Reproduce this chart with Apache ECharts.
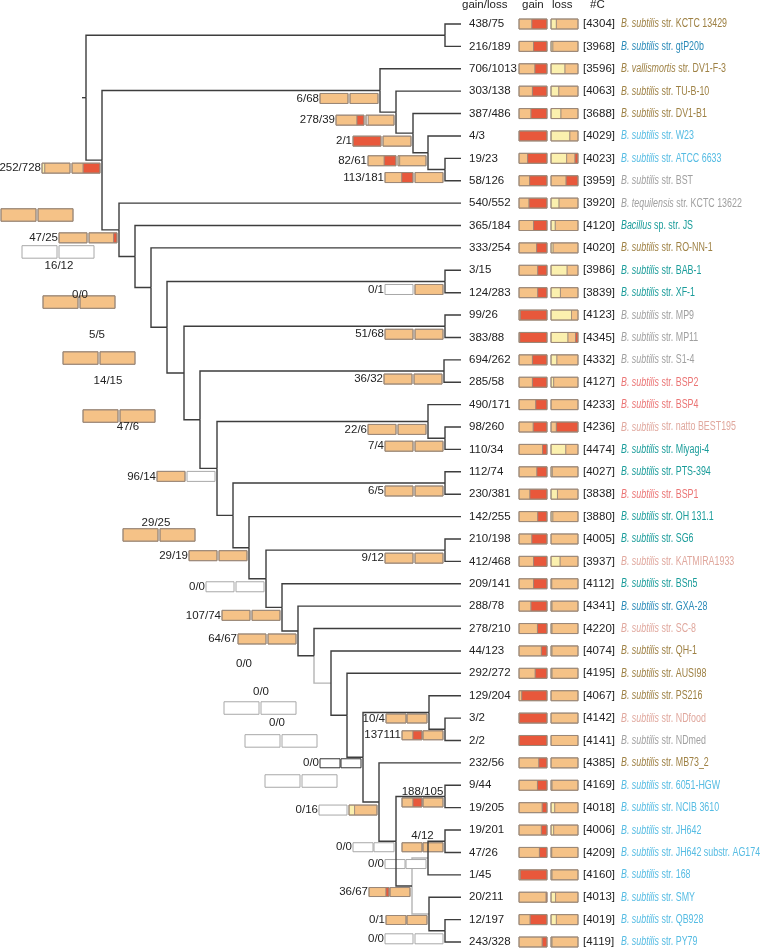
<!DOCTYPE html>
<html><head><meta charset="utf-8">
<script src="https://cdn.jsdelivr.net/npm/echarts@6.0.0/dist/echarts.min.js"></script>
<style>html,body{margin:0;padding:0;background:#fff}#c{width:760px;height:950px}</style>
</head><body><div id="c"></div>
<script>
// ---------------- DATA ----------------
const leafGenus = ['B. subtilis','B. subtilis','B. vallismortis','B. subtilis','B. subtilis','B. subtilis','B. subtilis','B. subtilis','B. tequilensis','Bacillus','B. subtilis','B. subtilis','B. subtilis','B. subtilis','B. subtilis','B. subtilis','B. subtilis','B. subtilis','B. subtilis','B. subtilis','B. subtilis','B. subtilis','B. subtilis','B. subtilis','B. subtilis','B. subtilis','B. subtilis','B. subtilis','B. subtilis','B. subtilis','B. subtilis','B. subtilis','B. subtilis','B. subtilis','B. subtilis','B. subtilis','B. subtilis','B. subtilis','B. subtilis','B. subtilis','B. subtilis','B. subtilis'];
const leafStrain = ['str. KCTC 13429','str. gtP20b','str. DV1-F-3','str. TU-B-10','str. DV1-B1','str. W23','str. ATCC 6633','str. BST','str. KCTC 13622','sp. str. JS','str. RO-NN-1','str. BAB-1','str. XF-1','str. MP9','str. MP11','str. S1-4','str. BSP2','str. BSP4','str. natto BEST195','str. Miyagi-4','str. PTS-394','str. BSP1','str. OH 131.1','str. SG6','str. KATMIRA1933','str. BSn5','str. GXA-28','str. SC-8','str. QH-1','str. AUSI98','str. PS216','str. NDfood','str. NDmed','str. MB73_2','str. 6051-HGW','str. NCIB 3610','str. JH642','str. JH642 substr. AG174','str. 168','str. SMY','str. QB928','str. PY79'];
const leafGroup = ['brown','blue','brown','brown','brown','lblue','lblue','gray','gray','teal','brown','teal','teal','gray','gray','gray','salmon','salmon','pink','teal','teal','salmon','teal','teal','pink','teal','blue','pink','brown','brown','brown','pink','gray','brown','lblue','lblue','lblue','lblue','lblue','lblue','lblue','lblue'];
const leafGainLoss = ['438/75','216/189','706/1013','303/138','387/486','4/3','19/23','58/126','540/552','365/184','333/254','3/15','124/283','99/26','383/88','694/262','285/58','490/171','98/260','110/34','112/74','230/381','142/255','210/198','412/468','209/141','288/78','278/210','44/123','292/272','129/204','3/2','2/2','232/56','9/44','19/205','19/201','47/26','1/45','20/211','12/197','243/328'];
const leafGenes = [4304,3968,3596,4063,3688,4029,4023,3959,3920,4120,4020,3986,3839,4123,4345,4332,4127,4233,4236,4474,4027,3838,3880,4005,3937,4112,4341,4220,4074,4195,4067,4142,4141,4385,4169,4018,4006,4209,4160,4013,4019,4119];
// fractions [yellow, orange, red]; remainder is empty (white)
const leafGainSeg = [[0,.46,.54],[0,.52,.48],[0,.57,.43],[0,.48,.52],[0,.43,.57],[0,0,1],[0,.31,.69],[0,.38,.62],[0,.36,.64],[0,.52,.48],[0,.63,.37],[0,.67,.33],[0,.67,.33],[0,.05,.95],[0,.03,.97],[0,.48,.52],[0,.48,.52],[0,.6,.4],[0,.51,.49],[0,.84,.16],[0,.64,.36],[0,.39,.61],[0,.67,.33],[0,.46,.54],[0,.52,.48],[0,.52,.48],[0,.43,.57],[0,.66,.34],[0,.8,.2],[0,.58,.42],[0,.1,.9],[0,0,1],[0,0,1],[0,.71,.29],[0,.66,.34],[0,.83,.17],[0,.8,.2],[0,.73,.27],[0,.05,.95],[0,.97,.03],[0,.4,.6],[0,.83,.17]];
const leafLossSeg = [[.2,.8,0],[.07,.93,0],[.52,.48,0],[.29,.71,0],[.37,.63,0],[.7,.3,0],[.58,.31,.11],[0,.56,.44],[.3,.7,0],[.16,.84,0],[.08,.92,0],[.6,.4,0],[.35,.65,0],[.76,.24,0],[.63,.28,.09],[.22,.78,0],[.1,.9,0],[0,1,0],[0,.2,.8],[.55,.45,0],[.05,.95,0],[.24,.76,0],[.07,.93,0],[0,1,0],[.34,.66,0],[.03,.97,0],[.04,.96,0],[.04,.96,0],[.04,.96,0],[.04,.96,0],[0,1,0],[0,1,0],[0,1,0],[0,1,0],[.04,.96,0],[.14,.86,0],[.1,.9,0],[.03,.97,0],[.04,.96,0],[.17,.83,0],[.2,.8,0],[.04,.96,0]];

const headerTexts = ['gain/loss','gain','loss','#C'];

// tree: depth of each internal node, children (numbers = leaf rows)
const leafDepth = 461;
const rootStubDepth = 82;
const nodeIds =   ['root','A','B','C','D','E','F','G','H','I','J','K','K1','L','L1','M','M1','N','N1','N2','O','O1','P','Q','Q1','R','S','T','U','V','W','X','X1','Y','Z','Z1','AA','BB','BB1','CC','CC1'];
const nodeDepth = [86,445,102,380,396,413,428,445,119,135,151,167,445,184,445,200,444,217,428,445,233,445,249,266,445,282,298,314,331,347,363,429,445,379,396,445,412,428,445,429,445];
const nodeKids = [['A','B'],[0,1],['C','H'],[2,'D'],[3,'E'],[4,'F'],[5,'G'],[6,7],[8,'I'],[9,'J'],[10,'K'],['K1','L'],[11,12],['L1','M'],[13,14],['M1','N'],[15,16],['N1','O'],[17,'N2'],[18,19],['O1','P'],[20,21],[22,'Q'],['Q1','R'],[23,24],[25,'S'],[26,'T'],[27,'U'],[28,'V'],[29,'W'],['X','Y'],[30,'X1'],[31,32],[33,'Z'],['Z1','AA'],[34,35],['BB','CC'],['BB1',38],[36,37],[39,'CC1'],[40,41]];
const grayBranches = ['U','BB','CC'];

// branch annotations
const annotNodes = ['B','C','D','E','F','G','H','K1','L1','M1','N1','N2','N','O1','P','Q1','Q','R','S','X','X1','W','Y','Z1','Z','BB1','BB','AA','CC','CC1'];
const annotText = ['252/728','6/68','278/39','2/1','82/61','113/181','47/25','0/1','51/68','36/32','22/6','7/4','96/14','6/5','29/19','9/12','0/0','107/74','64/67','10/4','137111','0/0','0/16','188/105','0/0','4/12','0/0','36/67','0/1','0/0'];
const annotGain = [[.1,.9,0],[0,1,0],[0,.75,.25],[0,0,1],[0,.58,.42],[0,.6,.4],[0,1,0],[0,0,0],[0,1,0],[0,1,0],[0,1,0],[0,1,0],[0,1,0],[0,1,0],[0,1,0],[0,1,0],[0,0,0],[0,1,0],[0,1,0],[0,1,0],[0,.55,.45],[0,0,0],[0,0,0],[0,.55,.45],[0,0,0],[0,1,0],[0,0,0],[0,.85,.15],[0,1,0],[0,0,0]];
const annotLoss = [[0,.4,.6],[0,1,0],[0,.92,0],[0,1,0],[.06,.94,0],[0,1,0],[0,.88,.12],[0,1,0],[0,1,0],[0,1,0],[0,1,0],[0,1,0],[0,0,0],[0,1,0],[0,1,0],[0,1,0],[0,0,0],[0,1,0],[0,1,0],[0,1,0],[0,1,0],[0,0,0],[.2,.8,0],[0,1,0],[0,0,0],[0,1,0],[0,0,0],[0,1,0],[0,1,0],[0,0,0]];

// stray (displaced) annotation pieces
const strayText = ['16/12','0/0','5/5','14/15','47/6','29/25','0/0','0/0','0/0'];
const strayBarFilled = [1,0,1,1,1,1,0,0,0];

// ---------------- LAYOUT ----------------
const compactAnnot = ['X','X1','W','Z1','Z','BB1','BB','AA','CC'];
const textAboveAnnot = ['Z1','BB1'];
const darkEdgeAnnot = ['W'];
const strayBarDepth = [1,22,43,63,83,123,224,245,265];
const strayBarRow = [8.53,10.18,12.42,14.92,17.51,22.82,30.55,32.02,33.81];
const strayTextDepth = [59,80,97,108,128,156,244,261,277];
const strayTextRow = [10.81,12.10,13.89,15.94,18.0,22.29,28.58,29.83,31.22];

const groupColor = {brown:'#9E8144', blue:'#2A8AB8', lblue:'#56BCE3', gray:'#A0A0A0', teal:'#1A9C9A', salmon:'#EB7575', pink:'#E0A89E'};
const ORA='#F5C287', RED='#E8583B', YEL='#FBF0AE', WHITE='#FFFFFF';
const BAR_EDGE='#9b8878', WHITE_EDGE='#a8a8a8';
const FONT='"Liberation Sans", Arial, Helvetica, sans-serif';
const F = '11.5px ' + FONT;
const FN = '12.5px ' + FONT;

// ---------------- helpers ----------------
const nodeIndex = {}; nodeIds.forEach((id,i)=>nodeIndex[id]=i);
function nodeRow(k){ if (typeof k === 'number') return k; const ch = nodeKids[nodeIndex[k]]; return (nodeRow(ch[0]) + nodeRow(ch[1]))/2; }
function nodeX(k){ return typeof k === 'number' ? leafDepth : nodeDepth[nodeIndex[k]]; }

const edges = [[rootStubDepth, nodeRow('root'), nodeX('root'), nodeRow('root'), 0]];
nodeIds.forEach((id,i)=>{
  nodeKids[i].forEach(c=>{
    edges.push([nodeX(id), nodeRow(id), nodeX(c), nodeRow(c), grayBranches.includes(c)?1:0]);
  });
});

function barEls(x, yc, w, h, seg, edge){
  const fy=seg[0]||0, fo=seg[1]||0, fr=seg[2]||0;
  const fw=Math.max(0, 1-fy-fo-fr);
  const allWhite = fw > 0.99;
  const parts=[[fw,WHITE],[fy,YEL],[fo,ORA],[fr,RED]];
  const els=[]; let cx=x;
  parts.forEach(([f,col])=>{
    if (f < 0.005) return;
    const ww=f*w;
    els.push({type:'rect', shape:{x:cx, y:yc-h/2, width:ww, height:h}, style:{fill:col, stroke: allWhite?'none':BAR_EDGE, lineWidth:0.8}});
    cx+=ww;
  });
  els.push({type:'rect', shape:{x:x, y:yc-h/2, width:w, height:h}, style:{fill:'none', stroke: edge || (allWhite?WHITE_EDGE:BAR_EDGE), lineWidth:1}});
  return els;
}
function txt(x, y, text, align, extra){
  return {type:'text', x:x, y:y, style:Object.assign({text:text, fill:'#222', font:F, align:align, verticalAlign:'middle'}, extra||{})};
}

// ---------------- chart ----------------
const chart = echarts.init(document.getElementById('c'), null, {renderer:'canvas'});
chart.setOption({
  animation:false,
  grid:{left:0, right:0, top:24, bottom:8},
  xAxis:{type:'value', min:0, max:760, show:false},
  yAxis:{type:'value', min:0, max:41, inverse:true, show:false},
  series:[
    {
      type:'custom', clip:false, coordinateSystem:'cartesian2d',
      encode:{x:[0,2], y:[1,3]},
      data: edges,
      renderItem:function(params, api){
        const p = api.coord([api.value(0), api.value(1)]);
        const c = api.coord([api.value(2), api.value(3)]);
        const gray = api.value(4) === 1;
        return {type:'polyline', z2: gray?0:1, shape:{points:[[p[0],p[1]],[p[0],c[1]],[c[0],c[1]]]},
          style:{stroke: gray?'#b4b4b4':'#3d3d3d', lineWidth:1.4, fill:'none'}};
      }
    },
    {
      type:'custom', clip:false, coordinateSystem:'cartesian2d',
      encode:{x:0, y:1},
      data: leafGainLoss.map((_,i)=>[leafDepth, i]),
      renderItem:function(params, api){
        const idx = params.dataIndex;
        const tip = api.coord([api.value(0), api.value(1)]);
        const x = tip[0], y = tip[1];
        const els = [];
        els.push(txt(x+8, y, leafGainLoss[idx], 'left'));
        els.push.apply(els, barEls(x+58, y, 28, 10, leafGainSeg[idx]));
        els.push.apply(els, barEls(x+90, y, 27, 10, leafLossSeg[idx]));
        els.push(txt(x+122, y, '['+leafGenes[idx]+']', 'left'));
        els.push({type:'text', x:x+160, y:y, scaleX:0.71, style:{
          text:'{i|'+leafGenus[idx]+'} {n|'+leafStrain[idx]+'}',
          font:FN, fill:groupColor[leafGroup[idx]], align:'left', verticalAlign:'middle',
          rich:{i:{font:'italic '+FN}, n:{font:FN}}
        }});
        if (idx === 0) {
          const hy = y - 19;
          els.push(txt(x+1, hy, headerTexts[0], 'left'));
          els.push(txt(x+61, hy, headerTexts[1], 'left'));
          els.push(txt(x+91, hy, headerTexts[2], 'left'));
          els.push(txt(x+129, hy, headerTexts[3], 'left'));
        }
        return {type:'group', children:els};
      }
    },
    {
      type:'custom', clip:false, coordinateSystem:'cartesian2d',
      encode:{x:0, y:1},
      data: annotNodes.map(k=>[nodeX(k), nodeRow(k)]),
      renderItem:function(params, api){
        const j = params.dataIndex, k = annotNodes[j];
        const p = api.coord([api.value(0), api.value(1)]);
        const compact = compactAnnot.includes(k);
        const w = compact?20:28, gap = compact?1:2, h = compact?9:10, dy = compact?6:8;
        const right = p[0]-2, yc = p[1]+dy;
        const lossX = right - w, gainX = lossX - gap - w;
        const edge = darkEdgeAnnot.includes(k) ? '#333' : null;
        const els = barEls(gainX, yc, w, h, annotGain[j], edge).concat(barEls(lossX, yc, w, h, annotLoss[j], edge));
        if (textAboveAnnot.includes(k)) els.push(txt(gainX + w + gap/2, yc - 11, annotText[j], 'center'));
        else els.push(txt(gainX - 1, yc, annotText[j], 'right'));
        return {type:'group', children:els};
      }
    },
    {
      type:'custom', clip:false, coordinateSystem:'cartesian2d',
      encode:{x:0, y:1},
      data: strayBarDepth.map((d,i)=>[d, strayBarRow[i]]),
      renderItem:function(params, api){
        const i = params.dataIndex;
        const p = api.coord([api.value(0), api.value(1)]);
        const seg = strayBarFilled[i] ? [0,1,0] : [0,0,0];
        const els = barEls(p[0], p[1], 35, 12.5, seg).concat(barEls(p[0]+37, p[1], 35, 12.5, seg));
        return {type:'group', children:els};
      }
    },
    {
      type:'custom', clip:false, coordinateSystem:'cartesian2d',
      encode:{x:0, y:1},
      data: strayTextDepth.map((d,i)=>[d, strayTextRow[i]]),
      renderItem:function(params, api){
        const i = params.dataIndex;
        const p = api.coord([api.value(0), api.value(1)]);
        return txt(p[0], p[1], strayText[i], 'center');
      }
    }
  ]
});
</script>
</body></html>
